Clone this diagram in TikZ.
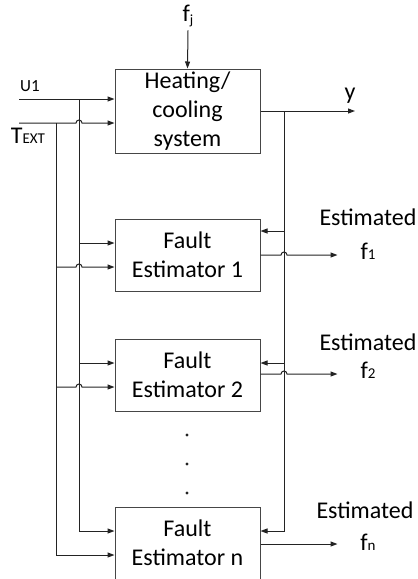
\documentclass[tikz,border=0pt]{standalone}
\usepackage{fontspec}
\setmainfont{Carlito}
\usepackage{tikz}
\usetikzlibrary{arrows.meta,calc}
\definecolor{boxgray}{RGB}{70,70,70}
\definecolor{wiregray}{RGB}{35,35,35}

\newcommand{\smallsub}[1]{{\fontsize{15}{15}\selectfont #1}}

\begin{document}
\begin{tikzpicture}[x=1pt, y=-1pt,
  every node/.style={font=\fontsize{24}{29}\selectfont},
  blockbox/.style={draw=boxgray, line width=1pt, minimum width=145pt,
    align=center, inner sep=0pt},
  wire/.style={draw=wiregray, line width=1pt},
  tip/.style={-{Triangle[length=7pt,width=5pt]}}]

\useasboundingbox (0,0) rectangle (418,579);

% blocks
\node[blockbox, minimum height=84pt] (hc) at (187.5,111) {Heating/\\cooling\\system};
\node[blockbox, minimum height=72pt] (fe1) at (187.5,255) {Fault\\Estimator 1};
\node[blockbox, minimum height=72pt] (fe2) at (187.5,375) {Fault\\Estimator 2};
\node[blockbox, minimum height=72pt] (fen) at (187.5,543) {Fault\\Estimator n};

% labels
\node (fj) at (188,16) {f\raisebox{-3pt}{\fontsize{14}{14}\selectfont j}};
\node[font=\fontsize{17}{17}\selectfont] (ulab) at (30,86) {U1};
\node (tlab) at (28,136) {T\smallsub{EXT}};
\node (ylab) at (350,96) {y};
\node (est1) at (368,217) {Estimated};
\node (f1) at (368,251) {f\smallsub{1}};
\node (est2) at (368,342) {Estimated};
\node (f2) at (368,370) {f\smallsub{2}};
\node (estn) at (365,510) {Estimated};
\node (fn) at (368,542) {f\smallsub{n}};

% bus points
\coordinate (uin) at (19,99);
\coordinate (tin) at (19,123);
\coordinate (ubus) at (79,99);
\coordinate (tbus) at (56,123);
\coordinate (ybus) at (284,111);
\coordinate (yout) at (355,111);

% ports on the estimators
\coordinate (fe1u) at ($(fe1.west)+(0,-12)$);
\coordinate (fe1t) at ($(fe1.west)+(0,12)$);
\coordinate (fe1y) at ($(fe1.east)+(0,-24)$);
\coordinate (fe1o) at (fe1.east);
\coordinate (fe2u) at ($(fe2.west)+(0,-12)$);
\coordinate (fe2t) at ($(fe2.west)+(0,12)$);
\coordinate (fe2y) at ($(fe2.east)+(0,-12)$);
\coordinate (fe2o) at ($(fe2.east)+(0,-1)$);
\coordinate (fenu) at ($(fen.west)+(0,-12)$);
\coordinate (fent) at ($(fen.west)+(0,12)$);
\coordinate (feny) at ($(fen.east)+(0,-12)$);
\coordinate (feno) at ($(fen.east)+(0,1)$);

% inputs to the plant
\draw[wire, tip] (fj.south) -- (hc.north);
\draw[wire, tip] (uin) -- (uin -| hc.west);
\draw[wire, tip] (tin) -- ($(tin -| ubus)+(-3,0)$)
  arc[start angle=180, end angle=0, radius=3pt] -- (tin -| hc.west);
\draw[wire, tip] (ybus -| hc.east) -- (yout);

% buses
\draw[wire, tip] (ubus) |- (fenu);
\draw[wire, tip] (tbus) |- (fent);
\draw[wire, tip] (ybus) |- (feny);

% estimator 1
\draw[wire, tip] (ubus |- fe1u) -- (fe1u);
\draw[wire, tip] (tbus |- fe1t) -- ($(ubus |- fe1t)+(-3,0)$)
  arc[start angle=180, end angle=0, radius=3pt] -- (fe1t);
\draw[wire, tip] (ybus |- fe1y) -- (fe1y);
\draw[wire, tip] (fe1o) -- ($(ybus |- fe1o)+(-3,0)$)
  arc[start angle=180, end angle=0, radius=3pt] -- ($(fe1o)+(77,0)$);

% estimator 2
\draw[wire, tip] (ubus |- fe2u) -- (fe2u);
\draw[wire, tip] (tbus |- fe2t) -- ($(ubus |- fe2t)+(-3,0)$)
  arc[start angle=180, end angle=0, radius=3pt] -- (fe2t);
\draw[wire, tip] (ybus |- fe2y) -- (fe2y);
\draw[wire, tip] (fe2o) -- ($(ybus |- fe2o)+(-3,0)$)
  arc[start angle=180, end angle=0, radius=3pt] -- ($(fe2o)+(77,0)$);

% estimator n
\draw[wire, tip] (feno) -- ($(feno)+(77,0)$);

% dots
\foreach \dy in {435,464,493}
  \fill[wiregray] (187,\dy) circle (1.6pt);

\end{tikzpicture}
\end{document}
